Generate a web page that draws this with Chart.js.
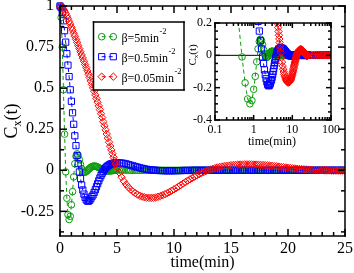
<!DOCTYPE html>
<html>
<head>
<meta charset="utf-8">
<script src="https://cdn.jsdelivr.net/npm/chart.js@4.4.1/dist/chart.umd.min.js"></script>
<style>
html, body { margin: 0; padding: 0; background: #fff; }
#wrap { position: relative; width: 354px; height: 273px; }
#main { position: absolute; left: 0; top: 0; }
#inset { position: absolute; left: 185px; top: 15px; }
#over { position: absolute; left: 0; top: 0; pointer-events: none; }
</style>
</head>
<body>
<div id="wrap">
  <canvas id="main" width="354" height="273"></canvas>
  <canvas id="inset" width="165" height="140"></canvas>
  <canvas id="over" width="354" height="273"></canvas>
</div>
<script>
// time(min)
const time = [
  0, 0.1, 0.2, 0.3, 0.4, 0.5, 0.6, 0.7, 0.8, 0.9,
  1, 1.1, 1.2, 1.3, 1.4, 1.5, 1.6, 1.7, 1.8, 1.9,
  2, 2.1, 2.2, 2.3, 2.4, 2.5, 2.6, 2.7, 2.8, 2.9,
  3, 3.1, 3.2, 3.3, 3.4, 3.5, 3.6, 3.7, 3.8, 3.9,
  4, 4.1, 4.2, 4.3, 4.4, 4.5, 4.6, 4.7, 4.8, 4.9,
  5,
  5.2, 5.4, 5.6, 5.8, 6, 6.2, 6.4, 6.6, 6.8, 7,
  7.2, 7.4, 7.6, 7.8, 8, 8.2, 8.4, 8.6, 8.8, 9,
  9.2, 9.4, 9.6, 9.8, 10, 10.2, 10.4, 10.6, 10.8, 11,
  11.2, 11.4, 11.6, 11.8, 12, 12.2, 12.4, 12.6, 12.8, 13,
  13.2, 13.4, 13.6, 13.8, 14, 14.2, 14.4, 14.6, 14.8, 15,
  15.2, 15.4, 15.6, 15.8, 16, 16.2, 16.4, 16.6, 16.8, 17,
  17.2, 17.4, 17.6, 17.8, 18, 18.2, 18.4, 18.6, 18.8, 19,
  19.2, 19.4, 19.6, 19.8, 20, 20.2, 20.4, 20.6, 20.8, 21,
  21.2, 21.4, 21.6, 21.8, 22, 22.2, 22.4, 22.6, 22.8, 23,
  23.2, 23.4, 23.6, 23.8, 24, 24.2, 24.4, 24.6, 24.8, 25,
  30, 35, 40, 45, 50, 55, 60, 65, 70, 75, 80, 85, 90, 95, 100
];

// beta = 5 min^-2
const green = [
  1, 0.93, 0.75, 0.49, 0.22, -0.01, -0.17, -0.27, -0.30, -0.28,
  -0.21, -0.13, -0.04, 0.04, 0.085, 0.10, 0.09, 0.065, 0.035, 0.01,
  -0.005, -0.012, -0.012, -0.008, -0.002, 0.005, 0.012, 0.018, 0.022, 0.025,
  0.026, 0.025, 0.023, 0.02, 0.016, 0.012, 0.008, 0.005, 0.002, 0,
  -0.002, -0.003, -0.004, -0.004, -0.004, -0.003, -0.002, -0.001, 0, 0.001,
  0.002,
  0.002, 0.002, 0.001, 0.001, 0, 0, 0, 0, 0, 0,
  0, 0, 0, 0, 0, 0, 0, 0, 0, 0,
  0, 0, 0, 0, 0, 0, 0, 0, 0, 0,
  0, 0, 0, 0, 0, 0, 0, 0, 0, 0,
  0, 0, 0, 0, 0, 0, 0, 0, 0, 0,
  0, 0, 0, 0, 0, 0, 0, 0, 0, 0,
  0, 0, 0, 0, 0, 0, 0, 0, 0, 0,
  0, 0, 0, 0, 0, 0, 0, 0, 0, 0,
  0, 0, 0, 0, 0, 0, 0, 0, 0, 0,
  0, 0, 0, 0, 0, 0, 0, 0, 0, 0,
  0, 0, 0, 0, 0, 0, 0, 0, 0, 0, 0, 0, 0, 0, 0
];

// beta = 0.5 min^-2
const blue = [
  1, 0.99, 0.96, 0.91, 0.85, 0.78, 0.71, 0.64, 0.57, 0.49,
  0.42, 0.35, 0.28, 0.21, 0.15, 0.09, 0.04, -0.01, -0.05, -0.09,
  -0.12, -0.145, -0.165, -0.18, -0.187, -0.188, -0.183, -0.173, -0.16, -0.15,
  -0.135, -0.118, -0.1, -0.082, -0.064, -0.047, -0.032, -0.018, -0.006, 0.005,
  0.014, 0.021, 0.027, 0.032, 0.036, 0.039, 0.041, 0.043, 0.044, 0.045,
  0.045,
  0.045, 0.044, 0.042, 0.039, 0.035, 0.031, 0.027, 0.023, 0.019, 0.015,
  0.012, 0.009, 0.006, 0.004, 0.002, 0.001, 0, -0.001, -0.002, -0.002,
  -0.003, -0.003, -0.003, -0.003, -0.003, -0.002, -0.002, -0.002, -0.001, -0.001,
  -0.001, -0.001, 0, 0, 0, 0, 0, 0, 0, 0,
  0, 0, 0, 0, 0, 0, 0, 0, 0, 0,
  0, 0, 0, 0, 0, 0, 0, 0, 0, 0,
  0, 0, 0, 0, 0, 0, 0, 0, 0, 0,
  0, 0, 0, 0, 0, 0, 0, 0, 0, 0,
  0, 0, 0, 0, 0, 0, 0, 0, 0, 0,
  0, 0, 0, 0, 0, 0, 0, 0, 0, 0,
  0, 0, 0, 0, 0, 0, 0, 0, 0, 0, 0, 0, 0, 0, 0
];

// beta = 0.05 min^-2
const red = [
  1, 0.997, 0.99, 0.98, 0.968, 0.954, 0.939, 0.923, 0.906, 0.889,
  0.871, 0.853, 0.834, 0.816, 0.797, 0.778, 0.759, 0.74, 0.721, 0.702,
  0.683, 0.664, 0.644, 0.625, 0.605, 0.585, 0.565, 0.544, 0.523, 0.502,
  0.481, 0.459, 0.437, 0.415, 0.392, 0.369, 0.345, 0.321, 0.296, 0.271,
  0.246, 0.221, 0.196, 0.171, 0.147, 0.124, 0.101, 0.079, 0.058, 0.038,
  0.019,
  -0.014, -0.042, -0.066, -0.086, -0.103, -0.117, -0.129, -0.139, -0.148, -0.155,
  -0.16, -0.164, -0.167, -0.168, -0.168, -0.167, -0.165, -0.161, -0.157, -0.152,
  -0.146, -0.139, -0.132, -0.124, -0.116, -0.108, -0.099, -0.09, -0.081, -0.072,
  -0.063, -0.055, -0.047, -0.039, -0.031, -0.024, -0.017, -0.011, -0.005, 0,
  0.005, 0.009, 0.013, 0.017, 0.02, 0.023, 0.025, 0.027, 0.029, 0.031,
  0.032, 0.033, 0.034, 0.035, 0.035, 0.036, 0.036, 0.036, 0.036, 0.035,
  0.035, 0.034, 0.033, 0.032, 0.031, 0.03, 0.028, 0.027, 0.025, 0.024,
  0.022, 0.02, 0.019, 0.017, 0.015, 0.014, 0.012, 0.011, 0.009, 0.008,
  0.007, 0.006, 0.005, 0.004, 0.003, 0.002, 0.001, 0.001, 0, 0,
  -0.001, -0.001, -0.001, -0.002, -0.002, -0.002, -0.002, -0.002, -0.002, -0.002,
  0, 0, 0, 0, 0, 0, 0, 0, 0, 0, 0, 0, 0, 0, 0
];

// ticks
const mainXMajor = [0, 5, 10, 15, 20, 25];
const mainXMinor = [1, 2, 3, 4, 6, 7, 8, 9, 11, 12, 13, 14, 16, 17, 18, 19, 21, 22, 23, 24];
const mainYMajor = [-0.25, 0, 0.25, 0.5, 0.75, 1];
const mainYMinor = [-0.375, -0.125, 0.125, 0.375, 0.625, 0.875];
const insetXMajor = [0.1, 1, 10, 100];
const insetXMinor = [0.2, 0.3, 0.4, 0.5, 0.6, 0.7, 0.8, 0.9, 2, 3, 4, 5, 6, 7, 8, 9, 20, 30, 40, 50, 60, 70, 80, 90];
const insetYMajor = [-0.4, -0.2, 0, 0.2];
const insetYMinor = [-0.35, -0.3, -0.25, -0.15, -0.1, -0.05, 0.05, 0.1, 0.15];

const labels = ['\u03b2=5min', '\u03b2=0.5min', '\u03b2=0.05min'];
const colors = ['rgb(10,155,10)', 'rgb(0,0,255)', 'rgb(255,0,0)'];
const styles = ['circle', 'rect', 'rectRot'];
const radii = [3.3, 4.4, 3.7];

const FONT = "'Liberation Serif', 'Times New Roman', serif";
Chart.defaults.font.family = FONT;
Chart.defaults.color = '#000';

function series(values, idx, positiveOnly) {
  const pts = [];
  time.forEach((t, i) => {
    if (!positiveOnly || t > 0) pts.push({x: t, y: values[i]});
  });
  const ds = {
    label: labels[idx],
    data: pts,
    showLine: true,
    borderColor: colors[idx],
    borderWidth: 1,
    borderDash: [4, 3],
    pointStyle: styles[idx],
    pointRadius: radii[idx],
    pointBorderWidth: 1,
    pointBorderColor: colors[idx],
    pointBackgroundColor: 'rgba(0,0,0,0)'
  };
  if (!positiveOnly) ds.clip = {left: 6, top: 6, right: 0, bottom: 0};
  return ds;
}

// white plot background and zero line (inset)
function under(lim) {
  return {
    id: 'under',
    beforeDatasetsDraw(chart) {
      const ctx = chart.ctx;
      const {x, y} = chart.scales;
      const L = x.getPixelForValue(lim[0]), R = x.getPixelForValue(lim[1]);
      const T = y.getPixelForValue(lim[3]), B = y.getPixelForValue(lim[2]);
      const py = y.getPixelForValue(0);
      ctx.save();
      ctx.fillStyle = '#fff';
      ctx.fillRect(L, T, R - L, B - T);
      ctx.fillStyle = '#000';
      ctx.fillRect(L, py - 0.5, R - L, 1);
      ctx.restore();
    }
  };
}

function texts(draw) {
  return {id: 'texts', afterDraw(chart) { draw(chart.ctx); }};
}

function drawCx(ctx, cx, cy, size) {
  const f1 = size + 'px ' + FONT;
  const f2 = Math.round(size * 0.65) + 'px ' + FONT;
  ctx.save();
  ctx.translate(cx, cy);
  ctx.rotate(-Math.PI / 2);
  ctx.fillStyle = '#000';
  ctx.textBaseline = 'alphabetic';
  ctx.font = f1;
  const wC = ctx.measureText('C').width;
  const wT = ctx.measureText('(t)').width;
  ctx.font = f2;
  const wX = ctx.measureText('x').width;
  const x0 = -(wC + wX + wT) / 2;
  const base = size * 0.33;
  ctx.font = f1; ctx.fillText('C', x0, base);
  ctx.font = f2; ctx.fillText('x', x0 + wC, base + size * 0.25);
  ctx.font = f1; ctx.fillText('(t)', x0 + wC + wX, base);
  ctx.restore();
}

function drawLegend(ctx) {
  ctx.save();
  ctx.fillStyle = '#fff';
  ctx.fillRect(93.5, 22, 90.5, 68);
  ctx.fillStyle = '#000';
  ctx.fillRect(92.75, 21.25, 92, 1.5);
  ctx.fillRect(92.75, 89.25, 92, 1.5);
  ctx.fillRect(92.75, 21.25, 1.5, 69.5);
  ctx.fillRect(183.25, 21.25, 1.5, 69.5);
  const rows = [36.7, 56.7, 76.7];
  rows.forEach((ry, i) => {
    ctx.strokeStyle = colors[i];
    ctx.lineWidth = 1;
    ctx.setLineDash([4, 3]);
    ctx.beginPath();
    ctx.moveTo(101.7, ry); ctx.lineTo(113.3, ry);
    ctx.stroke();
    ctx.setLineDash([]);
    ctx.fillStyle = 'rgba(0,0,0,0)';
    const po = {pointStyle: styles[i], radius: radii[i], rotation: 0, borderWidth: 1};
    Chart.helpers.drawPoint(ctx, po, 101.7, ry);
    Chart.helpers.drawPoint(ctx, po, 113.3, ry);
    ctx.fillStyle = '#000';
    ctx.textBaseline = 'alphabetic';
    ctx.font = '12px ' + FONT;
    ctx.fillText(labels[i], 121.5, ry + 5);
    const w = ctx.measureText(labels[i]).width;
    ctx.font = '8.5px ' + FONT;
    ctx.fillText('-2', 121.5 + w + 0.5, ry - 3);
  });
  ctx.restore();
}

function ticksFrom(list) {
  return function(scale) { scale.ticks = list.map(v => ({value: v})); };
}

const mainChart = new Chart(document.getElementById('main'), {
  type: 'scatter',
  // red drawn on top, then blue, then green
  data: {datasets: [series(red, 2, false), series(blue, 1, false), series(green, 0, false)]},
  options: {
    responsive: false,
    animation: false,
    devicePixelRatio: 1,
    layout: {padding: {left: 0, right: 9, top: 6, bottom: 0}},
    plugins: {legend: {display: false}, tooltip: {enabled: false}},
    scales: {
      x: {
        type: 'linear', min: 0, max: 25,
        grid: {display: false, drawTicks: false}, border: {display: false},
        afterBuildTicks: ticksFrom(mainXMajor),
        afterFit(s) { s.height = 37; s.paddingLeft = 0; s.paddingRight = 0; },
        ticks: {font: {size: 16}, padding: 3, maxRotation: 0, autoSkip: false, callback: v => String(v)}
      },
      y: {
        type: 'linear', min: -0.4, max: 1,
        grid: {display: false, drawTicks: false}, border: {display: false},
        afterBuildTicks: ticksFrom(mainYMajor),
        afterFit(s) { s.width = 60; s.paddingTop = 0; s.paddingBottom = 0; },
        ticks: {font: {size: 16}, padding: 6, autoSkip: false, callback: v => String(v)}
      }
    }
  },
  plugins: [texts(ctx => {
    drawCx(ctx, 11, 121, 18);
    ctx.save();
    ctx.fillStyle = '#000';
    ctx.font = '16px ' + FONT;
    ctx.textAlign = 'center';
    ctx.textBaseline = 'alphabetic';
    ctx.fillText('time(min)', 202.5, 267);
    ctx.restore();
    drawLegend(ctx);
  })]
});

const insetChart = new Chart(document.getElementById('inset'), {
  type: 'scatter',
  data: {datasets: [series(red, 2, true), series(blue, 1, true), series(green, 0, true)]},
  options: {
    responsive: false,
    animation: false,
    devicePixelRatio: 1,
    layout: {padding: {left: 0, right: 19, top: 8, bottom: 0}},
    plugins: {legend: {display: false}, tooltip: {enabled: false}},
    scales: {
      x: {
        type: 'logarithmic', min: 0.1, max: 100,
        grid: {display: false, drawTicks: false}, border: {display: false},
        afterBuildTicks: ticksFrom(insetXMajor),
        afterFit(s) { s.height = 35; s.paddingLeft = 0; s.paddingRight = 0; },
        ticks: {font: {size: 12}, padding: 3, maxRotation: 0, autoSkip: false, callback: v => String(v)}
      },
      y: {
        type: 'linear', min: -0.4, max: 0.2,
        grid: {display: false, drawTicks: false}, border: {display: false},
        afterBuildTicks: ticksFrom(insetYMajor),
        afterFit(s) { s.width = 30; s.paddingTop = 0; s.paddingBottom = 0; },
        ticks: {font: {size: 12}, padding: 3, autoSkip: false, callback: v => String(v)}
      }
    }
  },
  plugins: [under([0.1, 100, -0.4, 0.2]), texts(ctx => {
    drawCx(ctx, 7, 40, 11);
    ctx.save();
    ctx.fillStyle = '#000';
    ctx.font = '12px ' + FONT;
    ctx.textAlign = 'center';
    ctx.textBaseline = 'alphabetic';
    ctx.fillText('time(min)', 87, 130);
    ctx.restore();
  })]
});

// frames and inward ticks, placed with each chart's own scales, on a top layer
function drawFrame(ctx, chart, cfg, ox, oy) {
  const {x, y} = chart.scales;
  const L = ox + x.getPixelForValue(cfg.lim[0]), R = ox + x.getPixelForValue(cfg.lim[1]);
  const T = oy + y.getPixelForValue(cfg.lim[3]), B = oy + y.getPixelForValue(cfg.lim[2]);
  const w = 1.5;
  ctx.fillStyle = '#000';
  ctx.fillRect(L - w / 2, T - w / 2, R - L + w, w);
  ctx.fillRect(R - w / 2, T - w / 2, w, B - T + w);
  ctx.fillRect(L - w / 2, B - w / 2, R - L + w, w);
  ctx.fillRect(L - w / 2, T - w / 2, w, B - T + w);
  const xt = (v, len) => {
    const px = ox + x.getPixelForValue(v);
    ctx.fillRect(px - w / 2, B - len, w, len);
    ctx.fillRect(px - w / 2, T, w, len);
  };
  const yt = (v, len) => {
    const py = oy + y.getPixelForValue(v);
    ctx.fillRect(L, py - w / 2, len, w);
    ctx.fillRect(R - len, py - w / 2, len, w);
  };
  cfg.xMajor.forEach(v => xt(v, cfg.major));
  cfg.xMinor.forEach(v => xt(v, cfg.minor));
  cfg.yMajor.forEach(v => yt(v, cfg.major));
  cfg.yMinor.forEach(v => yt(v, cfg.minor));
}

function drawFrames() {
  const ctx = document.getElementById('over').getContext('2d');
  ctx.clearRect(0, 0, 354, 273);
  drawFrame(ctx, mainChart, {lim: [0, 25, -0.4, 1], xMajor: mainXMajor, xMinor: mainXMinor,
    yMajor: mainYMajor, yMinor: mainYMinor, major: 7, minor: 4}, 0, 0);
  drawFrame(ctx, insetChart, {lim: [0.1, 100, -0.4, 0.2], xMajor: insetXMajor, xMinor: insetXMinor,
    yMajor: insetYMajor, yMinor: insetYMinor, major: 5, minor: 3}, 185, 15);
}
drawFrames();
setTimeout(drawFrames, 0);
</script>
</body>
</html>
